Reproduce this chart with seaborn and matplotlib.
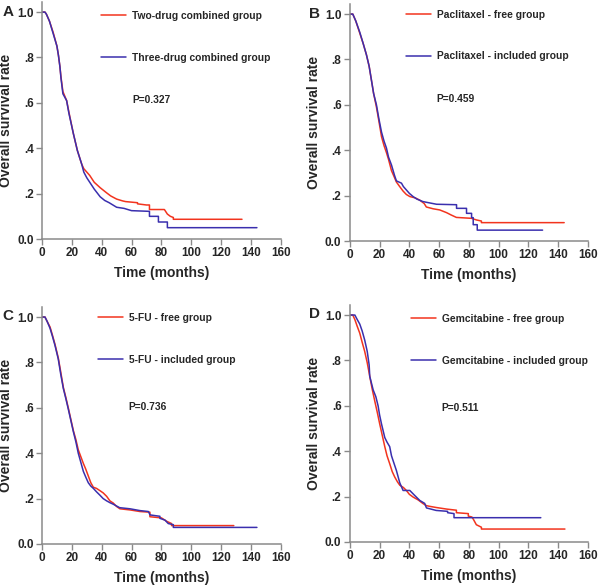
import pandas as pd
import matplotlib
matplotlib.use('Agg')
import matplotlib.pyplot as plt
import seaborn as sns

# Kaplan-Meier style survival curves.
# A repeated time marks a vertical drop of the step curve.
red = '#f2341e'
blue = '#3a2fae'

# Panel A
a_labels = ['Two-drug combined group', 'Three-drug combined group']
a_t1 = [0, 2, 3, 5, 7.5, 10, 11, 12, 12.7, 14, 16.5, 18, 21, 23.7, 26.6, 28, 30, 32, 35, 39, 43, 46,
        50, 54, 56, 64, 64, 70, 72, 72, 82, 83, 84, 86, 88, 88, 134]
a_s1 = [1.0, 1.0, 0.99, 0.96, 0.91, 0.85, 0.81, 0.76, 0.715, 0.65, 0.61, 0.56, 0.465, 0.39, 0.33, 0.31,
        0.295, 0.28, 0.25, 0.226, 0.205, 0.19, 0.176, 0.168, 0.165, 0.16, 0.155, 0.15, 0.15, 0.13, 0.13,
        0.12, 0.11, 0.10, 0.095, 0.087, 0.087]
a_t2 = [0, 2, 3, 5, 7.5, 10, 11, 12, 12.7, 14, 16.5, 18, 21, 23.7, 26.6, 28, 30, 32, 35, 39, 42, 45,
        50, 55, 60, 72, 72, 78, 78, 84, 84, 144]
a_s2 = [1.0, 1.0, 0.99, 0.96, 0.905, 0.85, 0.81, 0.76, 0.71, 0.64, 0.61, 0.555, 0.465, 0.39, 0.33, 0.295,
        0.27, 0.25, 0.22, 0.186, 0.17, 0.16, 0.14, 0.135, 0.125, 0.122, 0.10, 0.10, 0.075, 0.075, 0.05,
        0.05]

# Panel B
b_labels = ['Paclitaxel - free group', 'Paclitaxel - included group']
b_t1 = [0, 2, 4, 6.7, 9, 11.2, 13, 14.5, 16, 17.9, 19.5, 21.3, 23, 24.6, 26, 28, 30, 31.3, 33.5, 35.8,
        38, 40.3, 44, 47, 50, 51.4, 56, 60.4, 65, 68, 71.6, 81.8, 85, 88.4, 88.4, 144]
b_s1 = [1.0, 1.0, 0.97, 0.916, 0.87, 0.82, 0.77, 0.71, 0.65, 0.59, 0.53, 0.46, 0.42, 0.39, 0.36, 0.31,
        0.28, 0.26, 0.24, 0.22, 0.205, 0.196, 0.19, 0.18, 0.165, 0.15, 0.142, 0.137, 0.125, 0.115, 0.104,
        0.1, 0.093, 0.088, 0.081, 0.081]
b_t2 = [0, 2, 4, 6.7, 9, 11.2, 13, 14.5, 16, 17.9, 19.5, 21.3, 23, 24.6, 26, 28, 30, 31.3, 34.7, 36,
        38, 40, 42.5, 45, 49, 52, 58.3, 71.7, 71.7, 78.4, 78.4, 81.8, 81.8, 82.9, 82.9, 85.6, 85.6,
        129.5]
b_s2 = [1.0, 1.0, 0.97, 0.92, 0.87, 0.82, 0.77, 0.71, 0.65, 0.6, 0.54, 0.48, 0.44, 0.41, 0.37, 0.335,
        0.29, 0.265, 0.255, 0.24, 0.225, 0.21, 0.196, 0.185, 0.174, 0.17, 0.162, 0.16, 0.144, 0.144,
        0.122, 0.122, 0.103, 0.103, 0.072, 0.072, 0.048, 0.048]

# Panel C
c_labels = ['5-FU - free group', '5-FU - included group']
c_t1 = [0, 2, 3.5, 5.4, 7, 8.7, 10.9, 12.5, 14.3, 16, 17.6, 19.3, 21, 22.7, 24.3, 26, 27.7, 29.3, 31,
        32.7, 34.4, 36.5, 38.8, 41, 43.3, 45.5, 47.8, 50, 52.2, 59, 65.6, 72.3, 72.3, 80, 83.5, 86.8,
        86.8, 128.5]
c_s1 = [1.0, 1.0, 0.98, 0.956, 0.92, 0.88, 0.82, 0.76, 0.69, 0.645, 0.6, 0.55, 0.5, 0.46, 0.415, 0.385,
        0.355, 0.33, 0.30, 0.27, 0.25, 0.245, 0.235, 0.225, 0.21, 0.19, 0.18, 0.165, 0.155, 0.15, 0.143,
        0.14, 0.12, 0.115, 0.10, 0.09, 0.081, 0.081]
c_t2 = [0, 2, 3.5, 5.4, 7, 8.7, 10.9, 12.5, 14.3, 16, 17.6, 19.3, 21, 22.7, 24.3, 26, 27.7, 29.3, 31,
        32.7, 34.4, 36.5, 38.8, 41, 43.3, 45.5, 47.8, 52, 59, 65.7, 71.3, 72.4, 79, 79, 82.4, 84.6, 88,
        88, 144]
c_s2 = [1.0, 1.0, 0.98, 0.95, 0.915, 0.875, 0.815, 0.75, 0.685, 0.64, 0.595, 0.545, 0.495, 0.45, 0.40,
        0.36, 0.32, 0.295, 0.27, 0.255, 0.245, 0.23, 0.215, 0.20, 0.19, 0.182, 0.175, 0.16, 0.155, 0.147,
        0.143, 0.128, 0.122, 0.113, 0.105, 0.09, 0.085, 0.073, 0.073]

# Panel D
d_labels = ['Gemcitabine - free group', 'Gemcitabine - included group']
d_t1 = [0, 2, 3.4, 5, 6.7, 8.3, 10, 11.7, 13.4, 15, 16.8, 18.5, 20.1, 21.8, 23.5, 25, 26.8, 28.5, 30.2,
        32, 33.6, 36, 38, 40, 42.5, 46, 49, 51.5, 53.7, 58, 65, 71.6, 71.6, 79.6, 79.6, 82, 83, 85, 88.4,
        88.4, 144.5]
d_s1 = [1.0, 1.0, 0.98, 0.95, 0.92, 0.88, 0.84, 0.79, 0.73, 0.675, 0.62, 0.57, 0.52, 0.47, 0.42, 0.38,
        0.345, 0.31, 0.286, 0.265, 0.25, 0.24, 0.227, 0.21, 0.198, 0.185, 0.17, 0.16, 0.157, 0.152, 0.145,
        0.14, 0.129, 0.125, 0.114, 0.11, 0.10, 0.076, 0.065, 0.057, 0.057]
d_t2 = [0, 3.4, 5, 6.7, 8.3, 10, 11.7, 13, 13.4, 15.7, 17.5, 19, 20, 21.3, 23.5, 25, 26.8, 28, 29, 31.3,
        33.6, 35.8, 40.3, 43.6, 47, 50.3, 51.5, 58, 65.7, 65.7, 70, 70, 128.3]
d_s2 = [1.0, 1.0, 0.98, 0.96, 0.93, 0.89, 0.84, 0.78, 0.73, 0.67, 0.64, 0.6, 0.56, 0.52, 0.46, 0.44,
        0.42, 0.38, 0.36, 0.315, 0.26, 0.227, 0.227, 0.205, 0.183, 0.17, 0.15, 0.139, 0.135, 0.129, 0.125,
        0.107, 0.107]

p_values = ['P=0.327', 'P=0.459', 'P=0.736', 'P=0.511']
panel_letters = ['A', 'B', 'C', 'D']

sns.set_style('ticks')
plt.rcParams['font.family'] = ['Liberation Sans', 'DejaVu Sans']
plt.rcParams['font.weight'] = 'bold'

fig = plt.figure(figsize=(6, 5.87), dpi=100)

# axes rectangles and text placement (figure / axes fractions)
rects = [[0.070, 0.5928, 0.398, 0.404], [0.583, 0.5894, 0.397, 0.404],
         [0.070, 0.0733, 0.398, 0.404], [0.583, 0.0767, 0.397, 0.404]]
leg_pos = [(0.247, 0.962), (0.238, 0.976), (0.234, 0.975), (0.259, 0.962)]
p_pos = [(0.377, 0.586), (0.364, 0.597), (0.36, 0.579), (0.385, 0.566)]
letter_pos = [(0.004, 0.980), (0.515, 0.977), (0.004, 0.462), (0.515, 0.465)]

panels = [
    (a_labels, a_t1, a_s1, a_t2, a_s2),
    (b_labels, b_t1, b_s1, b_t2, b_s2),
    (c_labels, c_t1, c_s1, c_t2, c_s2),
    (d_labels, d_t1, d_s1, d_t2, d_s2),
]

for i, (labels, t1, s1, t2, s2) in enumerate(panels):
    ax = fig.add_axes(rects[i])
    df = pd.concat([
        pd.DataFrame({'time': t1, 'survival': s1, 'group': labels[0]}),
        pd.DataFrame({'time': t2, 'survival': s2, 'group': labels[1]}),
    ])
    sns.lineplot(data=df, x='time', y='survival', hue='group', hue_order=labels,
                 palette=[red, blue], estimator=None, sort=False,
                 linewidth=1.1, legend=False, ax=ax)

    ax.set_xlim(0, 160)
    ax.set_ylim(0, 1.045)
    ax.set_xticks(range(0, 161, 20))
    ax.set_yticks([0, 0.2, 0.4, 0.6, 0.8, 1.0])
    ax.set_yticklabels(['0.0', '.2', '.4', '.6', '.8', '1.0'])
    ax.set_xlabel('Time (months)', fontsize=10, fontweight='bold', labelpad=5)
    ax.set_ylabel('Overall survival rate', fontsize=10, fontweight='bold', labelpad=3)
    ax.tick_params(axis='both', labelsize=8.5, length=4, width=1, color='#8a8a8a', pad=2)
    for lab in ax.get_xticklabels() + ax.get_yticklabels():
        lab.set_fontweight('bold')
    sns.despine(ax=ax)
    for side in ['left', 'bottom']:
        ax.spines[side].set_color('#8a8a8a')
        ax.spines[side].set_linewidth(1.1)

    ax.legend(ax.lines[:2], labels, loc='upper left', bbox_to_anchor=leg_pos[i],
              frameon=False, fontsize=7.4, handlelength=2.4, handletextpad=0.6,
              labelspacing=3.1, borderpad=0, borderaxespad=0)
    ax.text(p_pos[i][0], p_pos[i][1], p_values[i], transform=ax.transAxes,
            fontsize=7.4, fontweight='bold', va='center', ha='left')
    fig.text(letter_pos[i][0], letter_pos[i][1], panel_letters[i], fontsize=11,
             fontweight='bold', va='center', ha='left')

fig.savefig('out.png', dpi=100)
